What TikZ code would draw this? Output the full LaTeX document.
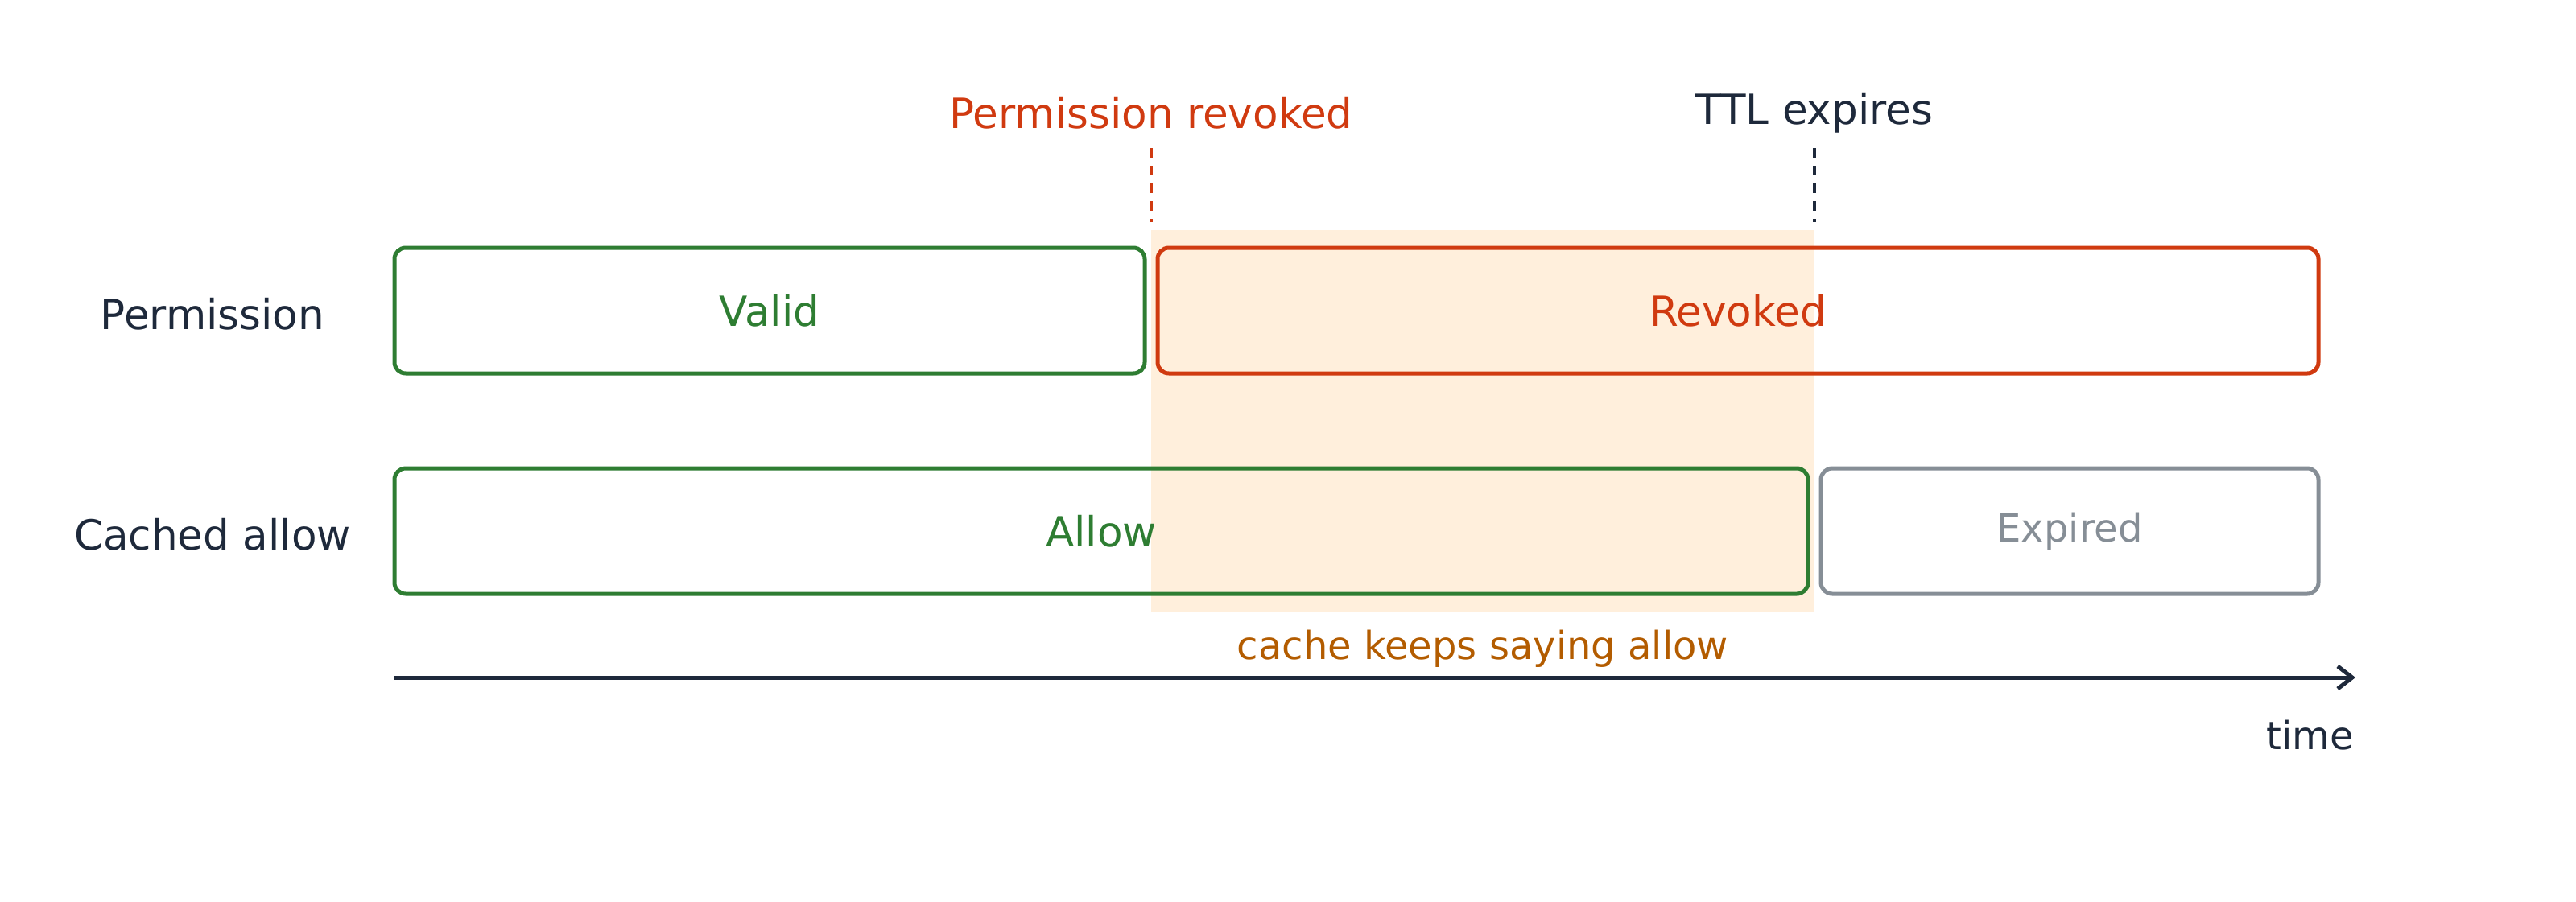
\documentclass[tikz,border=0pt]{standalone}
\usepackage{fontspec}
\setmainfont{DejaVu Sans}
\usetikzlibrary{arrows.meta}
\definecolor{ink}{HTML}{1E293B}
\definecolor{okgreen}{HTML}{2E7D32}
\definecolor{badred}{HTML}{D03A10}
\definecolor{dimgray}{HTML}{868E96}
\definecolor{warnbg}{HTML}{FFEFDC}
\definecolor{warnfg}{HTML}{B35C00}
\begin{document}
\begin{tikzpicture}[x=1pt,y=-1pt,
  lbl/.style={font=\fontsize{25.8}{30}\selectfont, inner sep=0pt},
  state/.style={draw, line width=2.5pt, rounded corners=7pt, inner sep=0pt,
    minimum height=78pt, font=\fontsize{25.8}{30}\selectfont}]
\useasboundingbox (0,0) rectangle (1600,560);

%window where the cache is stale
\fill[warnbg] (715,143) rectangle (1127,380);

%row labels
\node[lbl, text=ink] (permlbl) at (132,195) {Permission};
\node[lbl, text=ink] (cachelbl) at (132,332) {Cached allow};

%permission row
\node[state, draw=okgreen, text=okgreen, minimum width=466pt] (valid) at (478,193) {Valid};
\node[state, draw=badred, text=badred, minimum width=721pt] (revoked) at (1079.5,193) {Revoked};

%cache row
\node[state, draw=okgreen, text=okgreen, minimum width=878pt] (allow) at (684,330) {Allow};
\node[state, draw=dimgray, text=dimgray, minimum width=309pt,
  font=\fontsize{24}{28}\selectfont] (expired) at (1285.5,330) {Expired};

%events
\node[lbl, text=badred] (revokeev) at (715,70) {Permission revoked};
\node[lbl, text=ink] (ttlev) at (1127,70) {TTL expires};
\coordinate (revtop) at (715,92); \coordinate (revbot) at (715,138);
\coordinate (ttltop) at (1127,92); \coordinate (ttlbot) at (1127,138);
\draw[badred, line width=2.3pt, dash pattern=on 6pt off 5pt] (revtop) -- (revbot);
\draw[ink, line width=2.3pt, dash pattern=on 6pt off 5pt] (ttltop) -- (ttlbot);

\node[lbl, text=warnfg, font=\fontsize{24}{28}\selectfont] (stale) at (921,403) {cache keeps saying allow};

%time axis
\coordinate (t0) at (245,421); \coordinate (t1) at (1463,421);
\draw[ink, line width=2.5pt, -{Straight Barb[length=9pt,width=14pt]}] (t0) -- (t1);
\node[lbl, text=ink, font=\fontsize{24}{28}\selectfont] (timelbl) at (1435,457) {time};
\end{tikzpicture}
\end{document}
